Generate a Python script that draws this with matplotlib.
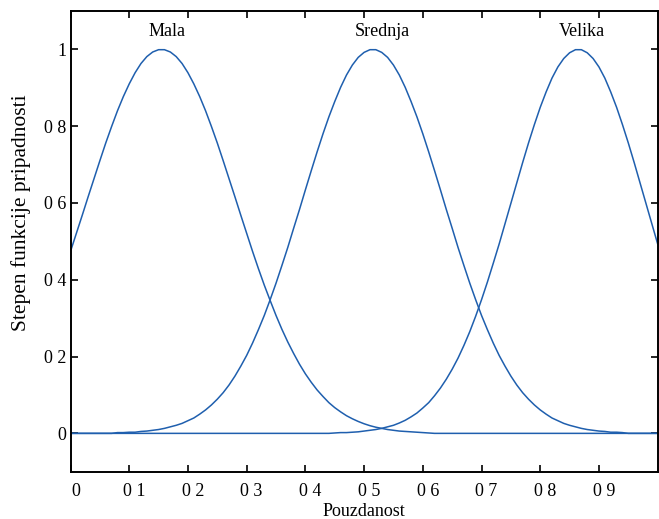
import matplotlib
matplotlib.use("Agg")
import matplotlib.pyplot as plt
import matplotlib.transforms as mtransforms

x = [i / 100 for i in range(101)]

mala = [0.474, 0.521, 0.568, 0.616, 0.663, 0.710, 0.756, 0.799, 0.840, 0.877,
        0.910, 0.939, 0.963, 0.981, 0.993, 0.999, 0.999, 0.993, 0.981, 0.963,
        0.939, 0.910, 0.877, 0.840, 0.799, 0.756, 0.710, 0.663, 0.616, 0.568,
        0.521, 0.474, 0.429, 0.386, 0.346, 0.307, 0.271, 0.238, 0.208, 0.180,
        0.155, 0.133, 0.113, 0.096, 0.080, 0.067, 0.056, 0.046, 0.038, 0.031,
        0.025, 0.020, 0.016, 0.013, 0.010, 0.008, 0.006, 0.005, 0.004, 0.003,
        0.002, 0.001] + [0.0] * 39

srednja = [0.0] * 8 + [
    0.002, 0.002, 0.003, 0.003, 0.005, 0.006, 0.008, 0.010, 0.013, 0.017,
    0.021, 0.026, 0.033, 0.040, 0.050, 0.061, 0.074, 0.089, 0.106, 0.126,
    0.149, 0.175, 0.203, 0.235, 0.270, 0.307, 0.348, 0.391, 0.437, 0.484,
    0.534, 0.583, 0.634, 0.684, 0.733, 0.780, 0.824, 0.864, 0.901, 0.933,
    0.959, 0.979, 0.992, 0.999, 0.999, 0.992, 0.979, 0.959, 0.933, 0.901,
    0.864, 0.824, 0.780, 0.733, 0.684, 0.634, 0.583, 0.534, 0.484, 0.437,
    0.391, 0.348, 0.307, 0.270, 0.235, 0.203, 0.175, 0.149, 0.126, 0.106,
    0.089, 0.074, 0.061, 0.050, 0.040, 0.033, 0.026, 0.021, 0.017, 0.013,
    0.010, 0.008, 0.006, 0.005, 0.003, 0.003, 0.002] + [0.0] * 6

velika = [0.0] * 45 + [
    0.001, 0.002, 0.002, 0.003, 0.004, 0.006, 0.008, 0.010, 0.013, 0.017,
    0.021, 0.027, 0.034, 0.043, 0.053, 0.066, 0.080, 0.098, 0.118, 0.141,
    0.167, 0.196, 0.229, 0.265, 0.305, 0.348, 0.394, 0.443, 0.493, 0.546,
    0.599, 0.652, 0.705, 0.756, 0.804, 0.849, 0.889, 0.925, 0.954, 0.976,
    0.991, 0.999, 0.999, 0.991, 0.976, 0.954, 0.925, 0.889, 0.849, 0.804,
    0.756, 0.705, 0.652, 0.599, 0.546, 0.493]

names = ["Mala", "Srednja", "Velika"]
name_x = [0.165, 0.531, 0.871]

xticks = [0, 0.1, 0.2, 0.3, 0.4, 0.5, 0.6, 0.7, 0.8, 0.9]
xtick_labels = ["0", "0 1", "0 2", "0 3", "0 4", "0 5", "0 6", "0 7", "0 8", "0 9"]
yticks = [0, 0.2, 0.4, 0.6, 0.8, 1.0]
ytick_labels = ["0", "0 2", "0 4", "0 6", "0 8", "1"]

plt.rcParams["font.family"] = ["Liberation Serif", "DejaVu Serif"]

fig = plt.figure(figsize=(6.59, 5.19), dpi=100)
ax = fig.add_axes([0.107, 0.091, 0.891, 0.888])

color = "#1f5fae"
for series in (mala, srednja, velika):
    ax.plot(x, series, color=color, linewidth=1.1)

for name, nx in zip(names, name_x):
    ax.text(nx, 1.047, name, ha="center", va="center", fontsize=13)

ax.set_xlim(0, 1)
ax.set_ylim(-0.1, 1.1)
ax.set_xticks(xticks)
ax.set_xticklabels(xtick_labels, fontsize=13)
ax.set_yticks(yticks)
ax.set_yticklabels(ytick_labels, fontsize=13)
ax.tick_params(direction="in", length=5, width=1.2, top=True, right=True, pad=8)
ax.tick_params(axis="y", pad=3)

# shift x tick labels slightly right, like the reference
offset = mtransforms.ScaledTranslation(5 / 100, 0, fig.dpi_scale_trans)
for lbl in ax.get_xticklabels():
    lbl.set_transform(lbl.get_transform() + offset)

for sp in ax.spines.values():
    sp.set_linewidth(1.4)

ax.set_xlabel("Pouzdanost", fontsize=13, labelpad=2)
ax.set_ylabel("Stepen funkcije pripadnosti", fontsize=15.5, va="center")
ax.yaxis.set_label_coords(-0.085, 0.563)

fig.savefig("out.png", dpi=100)
